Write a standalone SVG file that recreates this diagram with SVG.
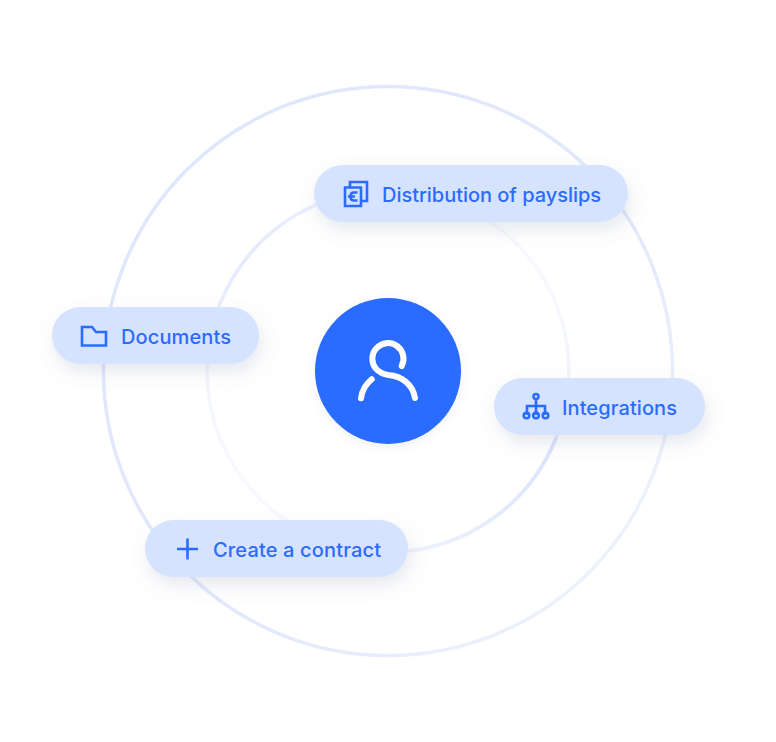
<svg xmlns="http://www.w3.org/2000/svg" width="776" height="742" viewBox="0 0 776 742">
<style>
.pill{fill:#d6e3fe}
.lbl{font-family:"Inter","Liberation Sans",sans-serif;font-size:20px;font-weight:500;fill:#2b6cff}
.ic{fill:none;stroke:#2b6cff;stroke-width:2.6}
.ring{fill:none;stroke-width:3.5}
</style>
<defs>
<filter id="sh" x="-20%" y="-50%" width="140%" height="220%"><feDropShadow dx="3" dy="8" stdDeviation="9" flood-color="#6b7a99" flood-opacity="0.17"/></filter>
<filter id="shc" x="-20%" y="-20%" width="140%" height="140%"><feDropShadow dx="0" dy="3" stdDeviation="5" flood-color="#6b7a99" flood-opacity="0.1"/></filter>
<linearGradient id="go" gradientUnits="userSpaceOnUse" x1="160" y1="160" x2="640" y2="600"><stop offset="0" stop-color="#dfe7fc"/><stop offset="0.6" stop-color="#e2e9fc"/><stop offset="1" stop-color="#f0f3fd"/></linearGradient>
<linearGradient id="gi" gradientUnits="userSpaceOnUse" x1="520" y1="230" x2="260" y2="510"><stop offset="0" stop-color="#f9fafe"/><stop offset="0.35" stop-color="#e8eefc"/><stop offset="0.55" stop-color="#e3eafc"/><stop offset="1" stop-color="#f9fafe"/></linearGradient>
<linearGradient id="gi2" gradientUnits="userSpaceOnUse" x1="560" y1="440" x2="400" y2="550"><stop offset="0" stop-color="#d9e3fb"/><stop offset="1" stop-color="#f0f3fd"/></linearGradient>
</defs>
<g id="connectors">
<circle class="ring" cx="388" cy="371" r="284.500" stroke="url(#go)"/>
<circle class="ring" cx="388" cy="371" r="181" stroke="url(#gi)"/>
<path class="ring" stroke="url(#gi2)" d="M556 438A181 181 0 0 1 408 551"/>
</g>
<g id="center"><circle cx="388" cy="371" r="73" fill="#2b6cff" filter="url(#shc)"/>
<path d="M401.700 366A15.600 15.600 0 1 0 375.800 368.500C380 373 384 374.500 388.500 375C402 376 413 385 415 398" fill="none" stroke="#fff" stroke-width="6" stroke-linecap="round"/>
<path d="M361 398.300C362 390 366 384 371.700 379.300" fill="none" stroke="#fff" stroke-width="6" stroke-linecap="round"/></g>
<g id="node-payslips"><rect class="pill" x="314" y="165" width="314" height="57" rx="28.500" filter="url(#sh)"/>
<path class="ic" d="M350 187V182H367V201H361M345 187.500H361V206H345Z"/>
<path class="ic" d="M357.500 192.500H354Q350.500 192.500 350.500 196.500Q350.500 200.500 354 200.500H357.500M348 196.500H355" stroke-width="2"/>
<text class="lbl" x="382" y="201.500" textLength="219">Distribution of payslips</text></g>
<g id="node-documents"><rect class="pill" x="52" y="307" width="207" height="57" rx="28.500" filter="url(#sh)"/>
<path class="ic" d="M82 327H92L96 332H106V345.500H82Z"/>
<text class="lbl" x="121" y="344" textLength="110">Documents</text></g>
<g id="node-integrations"><rect class="pill" x="494" y="378" width="211" height="57" rx="28.500" filter="url(#sh)"/>
<path class="ic" d="M536 398.500V415M536 406H527V415M536 406H545V415" stroke-width="2"/>
<circle class="ic" cx="536" cy="396.500" r="2.500"/><circle class="ic" cx="526.500" cy="415.500" r="2.800"/><circle class="ic" cx="536" cy="415.500" r="2.800"/><circle class="ic" cx="545.500" cy="415.500" r="2.800"/>
<text class="lbl" x="562" y="414.500" textLength="115">Integrations</text></g>
<g id="node-contract"><rect class="pill" x="145" y="520" width="263" height="57" rx="28.500" filter="url(#sh)"/>
<path class="ic" d="M177 549H198M187.500 538.500V559.500"/>
<text class="lbl" x="213" y="556.500" textLength="168">Create a contract</text></g>
</svg>
